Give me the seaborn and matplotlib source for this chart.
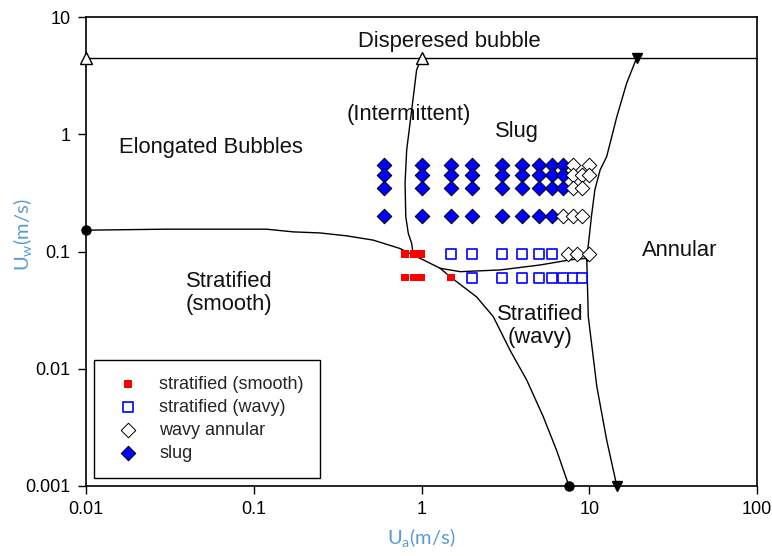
import matplotlib
matplotlib.use("Agg")
import matplotlib.pyplot as plt
import seaborn as sns
import pandas as pd

# ---------------- data ----------------
# slug (filled blue diamonds)
slug_x = [0.6, 1, 1.5, 2, 3, 4, 5, 6, 7,
          0.6, 1, 1.5, 2, 3, 4, 5, 6, 7,
          0.6, 1, 1.5, 2, 3, 4, 5, 6, 7,
          0.6, 1, 1.5, 2, 3, 4, 5, 6]
slug_y = [0.55] * 9 + [0.45] * 9 + [0.35] * 9 + [0.2] * 8

# wavy annular (open diamonds)
annular_pts_x = [8, 10, 8, 9, 10, 8, 9, 7, 8, 9, 7.5, 8.5, 10]
annular_pts_y = [0.55, 0.55, 0.45, 0.45, 0.45, 0.35, 0.35, 0.2, 0.2, 0.2, 0.095, 0.095, 0.095]

# stratified (smooth) (red squares)
smooth_x = [0.8, 0.9, 1.0, 0.8, 0.9, 1.0, 1.5]
smooth_y = [0.095, 0.095, 0.095, 0.06, 0.06, 0.06, 0.06]

# stratified (wavy) (open blue squares)
wavy_pts_x = [1.5, 2, 3, 4, 5, 6, 2, 3, 4, 5, 6, 7, 8, 9]
wavy_pts_y = [0.095] * 6 + [0.06] * 8

# regime boundaries
top_x = [0.01, 100]
top_y = [4.5, 4.5]
strat_x = [0.01, 0.03, 0.119, 0.172, 0.248, 0.358, 0.516, 0.745, 0.893, 1.026,
           1.29, 1.70, 2.94, 5.08, 7.67, 9.66]
strat_y = [0.152, 0.155, 0.155, 0.147, 0.144, 0.136, 0.125, 0.106, 0.093, 0.0848,
           0.072, 0.0673, 0.0696, 0.0767, 0.0848, 0.0875]
interm_x = [1.0, 0.935, 0.874, 0.816, 0.798, 0.806, 0.834, 0.874, 0.893]
interm_y = [4.5, 3.53, 1.61, 0.734, 0.382, 0.198, 0.143, 0.117, 0.093]
wavyb_x = [1.29, 1.48, 2.13, 2.68, 3.37, 4.24, 5.32, 6.40, 7.57]
wavyb_y = [0.072, 0.061, 0.041, 0.0278, 0.0144, 0.0080, 0.0039, 0.0020, 0.001]
annb_x = [19.2, 16.7, 14.6, 12.7, 11.6, 10.8, 10.3, 10.0, 9.79, 9.66, 9.87, 11.1, 12.7, 14.6]
annb_y = [4.5, 2.72, 1.41, 0.644, 0.495, 0.335, 0.198, 0.134, 0.103, 0.0875, 0.0278,
          0.00703, 0.00247, 0.001]

# end markers of boundaries
open_tri_x = [0.01, 1.0]
open_tri_y = [4.5, 4.5]
down_tri_x = [19.2, 14.6]
down_tri_y = [4.5, 0.001]
dot_x = [0.01, 7.57]
dot_y = [0.152, 0.001]
junction_x = [9.66]
junction_y = [0.0875]

x_ticks = [0.01, 0.1, 1, 10, 100]
x_ticklabels = ["0.01", "0.1", "1", "10", "100"]
y_ticks = [0.001, 0.01, 0.1, 1, 10]
y_ticklabels = ["0.001", "0.01", "0.1", "1", "10"]

region_labels = ["Disperesed bubble", "(Intermittent)", "Slug", "Elongated Bubbles",
                 "Annular", "Stratified\n(smooth)", "Stratified\n(wavy)"]
region_x = [1.46, 0.84, 3.71, 0.0556, 34.8, 0.0711, 5.08]
region_y = [6.24, 1.46, 1.05, 0.778, 0.101, 0.0443, 0.0232]

# ---------------- style ----------------
sns.set_style("ticks")
plt.rcParams["font.family"] = ["Liberation Sans", "DejaVu Sans"]
plt.rcParams["mathtext.default"] = "regular"

fig = plt.figure(figsize=(7.72, 5.56), dpi=100)
ax = fig.add_axes([86 / 772, 1 - 486 / 556, 671 / 772, 469 / 556])
ax.set_xscale("log")
ax.set_yscale("log")

lw = 1.0
for xs, ys in [(top_x, top_y), (strat_x, strat_y), (interm_x, interm_y),
               (wavyb_x, wavyb_y), (annb_x, annb_y)]:
    ax.plot(xs, ys, color="black", lw=lw, zorder=2, clip_on=False)

df_smooth = pd.DataFrame({"x": smooth_x, "y": smooth_y})
df_wavy = pd.DataFrame({"x": wavy_pts_x, "y": wavy_pts_y})
df_ann = pd.DataFrame({"x": annular_pts_x, "y": annular_pts_y})
df_slug = pd.DataFrame({"x": slug_x, "y": slug_y})

sns.scatterplot(data=df_slug, x="x", y="y", ax=ax, marker="D", s=55,
                color="#0000FF", edgecolor="black", linewidth=0.7,
                label="slug", zorder=3)
sns.scatterplot(data=df_ann, x="x", y="y", ax=ax, marker="D", s=55,
                color="white", edgecolor="black", linewidth=0.7,
                label="wavy annular", zorder=3)
sns.scatterplot(data=df_smooth, x="x", y="y", ax=ax, marker="s", s=32,
                color="#FF0000", edgecolor="none", linewidth=0,
                label="stratified (smooth)", zorder=3)
sns.scatterplot(data=df_wavy, x="x", y="y", ax=ax, marker="s", s=50,
                facecolor="white", edgecolor="#0000FF", linewidth=1.2,
                label="stratified (wavy)", zorder=3)

ax.plot(open_tri_x, open_tri_y, linestyle="none", marker="^", ms=8,
        mfc="white", mec="black", mew=1.0, zorder=4, clip_on=False)
ax.plot(down_tri_x, down_tri_y, linestyle="none", marker="v", ms=7,
        color="black", zorder=4, clip_on=False)
ax.plot(dot_x, dot_y, linestyle="none", marker="o", ms=6.5,
        color="black", zorder=4, clip_on=False)
ax.plot(junction_x, junction_y, linestyle="none", marker="v", ms=5,
        color="black", zorder=2.5, clip_on=False)

for lab, xx, yy in zip(region_labels, region_x, region_y):
    ax.text(xx, yy, lab, ha="center", va="center", fontsize=15.8,
            color="#111111", linespacing=1.15, zorder=5)

ax.set_xlim(0.01, 100)
ax.set_ylim(0.001, 10)
ax.set_xticks(x_ticks)
ax.set_xticklabels(x_ticklabels)
ax.set_yticks(y_ticks)
ax.set_yticklabels(y_ticklabels)
ax.minorticks_off()
ax.tick_params(axis="both", which="major", direction="out", length=6, width=1.0,
               labelsize=13, colors="black", pad=5)
for sp in ax.spines.values():
    sp.set_visible(True)
    sp.set_color("black")
    sp.set_linewidth(1.2)

label_color = "#5B9BD5"
ax.set_xlabel("U$_a$(m/s)", fontsize=14.5, color=label_color, family=["Lato", "DejaVu Sans"])
ax.set_ylabel("U$_w$(m/s)", fontsize=14.5, color=label_color, family=["Lato", "DejaVu Sans"])
ax.xaxis.set_label_coords(0.5, -0.085)
ax.yaxis.set_label_coords(-0.077, 0.535)

handles, labels = ax.get_legend_handles_labels()
order = ["stratified (smooth)", "stratified (wavy)", "wavy annular", "slug"]
hmap = dict(zip(labels, handles))
leg = ax.legend([hmap[o] for o in order], order, loc="lower left",
                bbox_to_anchor=(0.012, 0.017), borderaxespad=0, fontsize=13,
                frameon=True, fancybox=False, framealpha=1, edgecolor="black",
                borderpad=0.9, labelspacing=0.33, handlelength=2.0,
                handletextpad=0.7)
leg.get_frame().set_linewidth(1.0)
leg.set_zorder(6)

fig.savefig("out.png", dpi=100)
